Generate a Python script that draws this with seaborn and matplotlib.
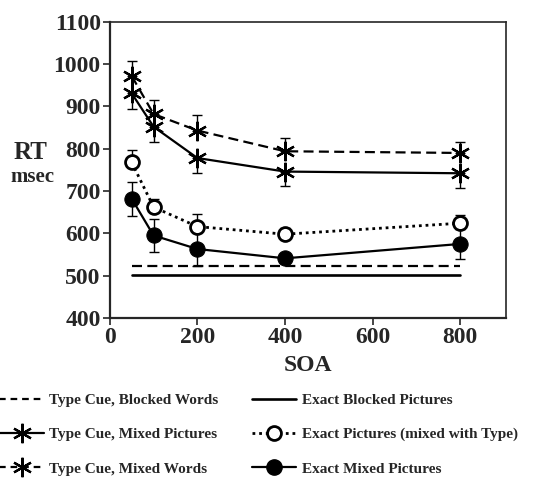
import matplotlib
matplotlib.use("Agg")
import matplotlib.pyplot as plt
import seaborn as sns
import pandas as pd
import numpy as np
from matplotlib.lines import Line2D

soa = [50, 100, 200, 400, 800]
mixed_words = [972, 882, 843, 794, 790]
mixed_words_err = [36, 32, 37, 31, 27]
mixed_pictures = [931, 852, 778, 746, 742]
mixed_pictures_err = [36, 37, 36, 35, 35]
exact_pictures_type = [768, 662, 616, 598, 624]
exact_pictures_type_err = [30, 20, 30, 15, 20]
exact_mixed = [682, 595, 563, 541, 575]
exact_mixed_err = [40, 40, 40, 10, 35]
blocked_words = 522
blocked_pictures = 502
line_span = [50, 800]

sns.set_style("ticks")
plt.rcParams['font.family'] = ['Liberation Serif', 'DejaVu Serif']
plt.rcParams['font.weight'] = 'bold'

fig = plt.figure(figsize=(5.6, 4.84), dpi=100)
ax = fig.add_axes([0.196, 0.343, 0.708, 0.612])

df = pd.DataFrame({"SOA": soa * 4,
                   "RT": mixed_words + mixed_pictures + exact_pictures_type + exact_mixed,
                   "cond": ["mw"] * 5 + ["mp"] * 5 + ["ep"] * 5 + ["em"] * 5})

lw = 1.6
dash = (0, (4.5, 2.4))
dot = (0, (1, 1.4))
# error bars
eb = dict(fmt='none', ecolor='black', elinewidth=1.0, capsize=3.5, capthick=1.0)
ax.errorbar(soa, mixed_words, yerr=[np.zeros(5), mixed_words_err], **eb)
ax.errorbar(soa, mixed_pictures, yerr=[mixed_pictures_err, np.zeros(5)], **eb)
ax.errorbar(soa, exact_pictures_type, yerr=[np.zeros(5), exact_pictures_type_err], **eb)
ax.errorbar(soa, exact_mixed, yerr=exact_mixed_err, **eb)

sns.lineplot(data=df[df.cond == "mw"], x="SOA", y="RT", ax=ax, color='black',
             linestyle=dash, linewidth=lw, marker=(6, 2, 0), markersize=14,
             markeredgewidth=1.6, markeredgecolor='black')
sns.lineplot(data=df[df.cond == "mp"], x="SOA", y="RT", ax=ax, color='black',
             linestyle='-', linewidth=lw, marker=(6, 2, 0), markersize=14,
             markeredgewidth=1.6, markeredgecolor='black')
sns.lineplot(data=df[df.cond == "ep"], x="SOA", y="RT", ax=ax, color='black',
             linestyle=dot, linewidth=lw + 0.4, marker='o', markersize=10,
             markerfacecolor='white', markeredgewidth=2.0, markeredgecolor='black')
sns.lineplot(data=df[df.cond == "em"], x="SOA", y="RT", ax=ax, color='black',
             linestyle='-', linewidth=lw, marker='o', markersize=11,
             markerfacecolor='black', markeredgecolor='black')
sns.lineplot(x=line_span, y=[blocked_words] * 2, ax=ax, color='black',
             linestyle=dash, linewidth=lw)
sns.lineplot(x=line_span, y=[blocked_pictures] * 2, ax=ax, color='black',
             linestyle='-', linewidth=lw + 0.3)

ax.set_xlim(0, 905)
ax.set_ylim(400, 1100)
ax.set_xticks([0, 200, 400, 600, 800])
ax.set_yticks(range(400, 1101, 100))
ax.tick_params(axis='both', direction='out', length=5, width=1.2, labelsize=17, pad=1.5)
for lab in ax.get_xticklabels() + ax.get_yticklabels():
    lab.set_fontweight('bold')
for s in ax.spines.values():
    s.set_visible(True)
    s.set_linewidth(1.2)
ax.spines['left'].set_linewidth(1.6)
ax.spines['bottom'].set_linewidth(1.6)
ax.set_xlabel("SOA", fontsize=17, fontweight='bold', labelpad=5)
ax.set_ylabel("")
fig.text(0.055, 0.684, "RT", fontsize=18, fontweight='bold', ha='center', va='center')
fig.text(0.058, 0.634, "msec", fontsize=15, fontweight='bold', ha='center', va='center')

handles = [
    Line2D([], [], color='black', linestyle=(0, (3, 2.2)), linewidth=lw),
    Line2D([], [], color='black', linestyle='-', linewidth=lw, marker=(6, 2, 0),
           markersize=14, markeredgewidth=1.6),
    Line2D([], [], color='black', linestyle=(0, (3, 2.2)), linewidth=lw, marker=(6, 2, 0),
           markersize=14, markeredgewidth=1.6),
    Line2D([], [], color='black', linestyle='-', linewidth=lw + 0.3),
    Line2D([], [], color='black', linestyle=dot, linewidth=lw + 0.4, marker='o',
           markersize=10, markerfacecolor='white', markeredgewidth=2.0),
    Line2D([], [], color='black', linestyle='-', linewidth=lw, marker='o', markersize=11,
           markerfacecolor='black'),
]
labels = ["Type Cue, Blocked Words", "Type Cue, Mixed Pictures", "Type Cue, Mixed Words",
          "Exact Blocked Pictures", "Exact Pictures (mixed with Type)", "Exact Mixed Pictures"]
fig.legend(handles, labels, ncol=2, loc='lower left', bbox_to_anchor=(-0.02, -0.005),
           frameon=False, prop={'size': 11, 'weight': 'bold'}, handlelength=2.9,
           handletextpad=0.35, columnspacing=2.2, labelspacing=1.35, borderaxespad=0.3)

fig.savefig("out.png", dpi=100)
